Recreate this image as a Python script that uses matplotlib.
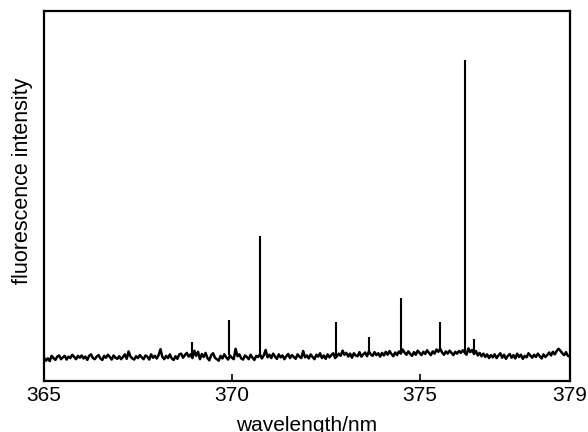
import numpy as np
import matplotlib.pyplot as plt

plt.rcParams['font.family'] = ['Liberation Sans', 'DejaVu Sans']

baseline = [
    63, 55, 61, 54, 68, 62, 57, 66, 69, 59, 64, 68, 58, 66, 62, 71, 65, 59, 68, 63,
    69, 61, 66, 57, 68, 72, 62, 59, 66, 70, 61, 57, 68, 63, 71, 65, 58, 69, 63, 60,
    67, 59, 65, 72, 60, 80, 66, 61, 58, 67, 62, 70, 64, 59, 69, 66, 58, 72, 63, 68,
    61, 70, 86, 65, 59, 68, 62, 72, 61, 57, 67, 60, 72, 74, 63, 70, 76, 66, 72, 62,
    82, 68, 79, 59, 73, 65, 76, 62, 56, 70, 75, 63, 59, 55, 68, 61, 72, 64, 58, 69,
    63, 59, 87, 67, 72, 61, 58, 69, 65, 59, 71, 63, 57, 68, 65, 72, 61, 69, 84, 64,
    71, 62, 74, 66, 60, 72, 64, 69, 59, 67, 73, 62, 70, 65, 60, 72, 66, 62, 81, 64,
    69, 61, 72, 65, 59, 71, 66, 75, 62, 69, 60, 72, 64, 70, 75, 62, 67, 74, 68, 82,
    71, 76, 66, 74, 63, 75, 69, 67, 78, 66, 72, 77, 67, 80, 72, 68, 78, 70, 75, 66,
    76, 69, 79, 71, 81, 73, 67, 77, 70, 80, 74, 85, 77, 71, 80, 73, 68, 78, 71, 82,
    76, 70, 79, 73, 83, 76, 70, 80, 74, 85, 79, 87, 77, 71, 80, 74, 82, 76, 70, 79,
    74, 81, 76, 83, 77, 71, 88, 78, 84, 73, 81, 69, 76, 67, 74, 65, 72, 62, 70, 64,
    72, 62, 69, 75, 63, 71, 60, 68, 73, 63, 70, 61, 74, 65, 71, 60, 68, 64, 75, 69,
    63, 71, 65, 74, 67, 61, 72, 65, 70, 77, 69, 79, 72, 81, 87, 82, 75, 70, 78, 68,
    66,
]
wavelength = np.round(365 + 0.05 * np.arange(len(baseline)), 2)

# emission lines
peak_wl = [368.93, 369.93, 370.75, 372.77, 373.65, 374.51, 375.55, 376.22, 376.45]
peak_h = [105, 165, 392, 160, 120, 224, 159, 868, 114]

xticks = [365, 370, 375, 379]

fig, ax = plt.subplots(figsize=(5.88, 4.32), dpi=100)
fig.subplots_adjust(left=0.075, right=0.969, bottom=0.118, top=0.975)

base = np.array(baseline)
peak_base = [base[np.abs(wavelength - p).argmin()] for p in peak_wl]
ax.vlines(peak_wl, peak_base, peak_h, color='black', lw=1.5)
ax.plot(wavelength, base, color='black', lw=1.8)

ax.set_xlim(365, 379)
ax.set_ylim(0, 1000)
ax.set_xticks(xticks)
ax.set_xticklabels([str(t) for t in xticks], fontsize=15)
ax.set_yticks([])
ax.tick_params(axis='x', direction='in', length=5, width=1.2, pad=3.5)
for s in ax.spines.values():
    s.set_linewidth(1.6)

ax.set_xlabel('wavelength/nm', fontsize=15, labelpad=8)
ax.set_ylabel('fluorescence intensity', fontsize=15.5)
ax.yaxis.set_label_coords(-0.021, 0.54)

plt.savefig('out.png', dpi=100)
